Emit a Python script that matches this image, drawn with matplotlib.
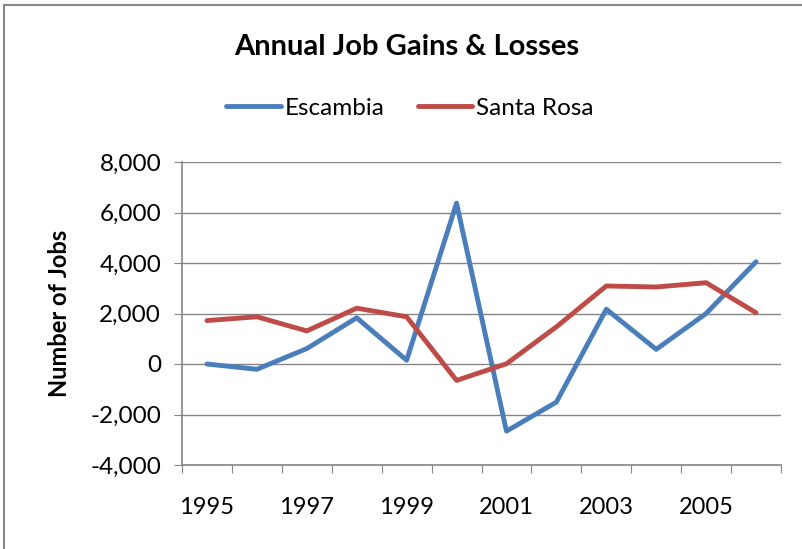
import matplotlib.pyplot as plt
from matplotlib.patches import Rectangle

# Data
years = [1995, 1996, 1997, 1998, 1999, 2000, 2001, 2002, 2003, 2004, 2005, 2006]
escambia = [0, -210, 610, 1830, 150, 6370, -2660, -1510, 2170, 580, 2000, 4050]
santa_rosa = [1720, 1870, 1310, 2210, 1870, -650, 10, 1470, 3090, 3050, 3220, 2030]
y_ticks = [-4000, -2000, 0, 2000, 4000, 6000, 8000]

plt.rcParams['font.family'] = ['Lato', 'DejaVu Sans']

fig = plt.figure(figsize=(8.02, 5.49), dpi=100)
ax = fig.add_axes([182 / 802, 1 - 465 / 549, (781 - 182) / 802, (465 - 162) / 549])

# chart border like the Excel chart area
fig.patches.append(Rectangle((4 / 802, -0.1), 1.2, 1 - 5 / 549 + 0.1,
                             transform=fig.transFigure, fill=False,
                             edgecolor='#868686', linewidth=1.5))

x = list(range(len(years)))
ax.plot(x, escambia, color='#4A7EBB', linewidth=3.5, label='Escambia',
        solid_joinstyle='round', solid_capstyle='round')
ax.plot(x, santa_rosa, color='#BE4B48', linewidth=3.5, label='Santa Rosa',
        solid_joinstyle='round', solid_capstyle='round')

ax.set_xlim(-0.5, len(years) - 0.5)
ax.set_ylim(-4000, 8000)
ax.set_yticks(y_ticks)
ax.set_yticklabels([f'{v:,}' for v in y_ticks], fontsize=17.5)
ax.yaxis.grid(True, color='#868686', linewidth=1)
ax.set_axisbelow(True)

# ticks at category boundaries, labels at every other category centre
ax.set_xticks([i - 0.5 for i in range(len(years) + 1)])
ax.set_xticklabels([])
ax.set_xticks(x[::2], minor=True)
ax.set_xticklabels([str(y) for y in years[::2]], minor=True, fontsize=17)
ax.tick_params(axis='x', which='major', length=6, color='#868686', direction='out')
ax.tick_params(axis='x', which='minor', length=0, pad=23)
ax.tick_params(axis='y', length=6, color='#868686', direction='out', pad=9)

for side in ['top', 'right']:
    ax.spines[side].set_visible(False)
for side in ['left', 'bottom']:
    ax.spines[side].set_color('#868686')
    ax.spines[side].set_linewidth(1.2)

ax.set_ylabel('Number of Jobs', fontsize=17, fontweight='bold')
ax.yaxis.set_label_coords((71 - 182) / 599, 0.5)

fig.text(407 / 802, 1 - 47 / 549, 'Annual Job Gains & Losses', fontsize=21,
         fontweight='bold', ha='center', va='center')

fig.legend(loc='center', bbox_to_anchor=(410 / 802, 1 - 108 / 549), ncol=2,
           frameon=False, fontsize=17.5, handlelength=2.25, handletextpad=0.16,
           columnspacing=1.35)

plt.savefig('out.png', dpi=100)
